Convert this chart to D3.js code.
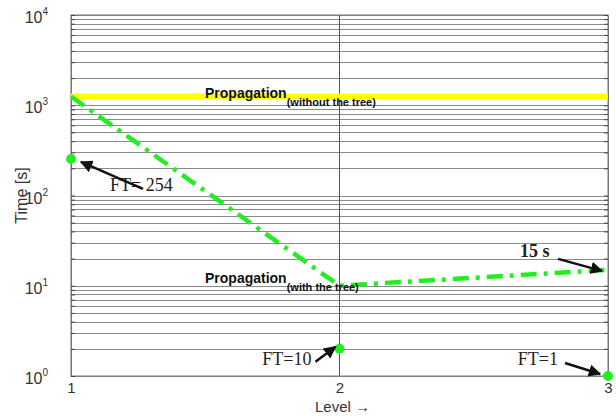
<!DOCTYPE html>
<html>
<head>
<meta charset="utf-8">
<script src="https://cdn.jsdelivr.net/npm/d3@7"></script>
<style>
  body { margin: 0; background: #fff; }
  text { font-family: "Liberation Sans", Arial, sans-serif; }
</style>
</head>
<body>
<div id="chart"></div>
<script>
var levels = [1, 2, 3];
var withTree = [1250, 10, 15];
var withoutTree = [1250, 1250, 1250];
var ftValues = [254, 2, 1];
var ftLabels = ["FT= 254", "FT=10", "FT=1"];
var yTickExp = [0, 1, 2, 3, 4];

function init() {
    var w = 616, h = 416;
    var margin = {left: 71, right: 8, top: 15, bottom: 40};

    var svg = d3.select("#chart").append("svg")
        .attr("width", w)
        .attr("height", h);

    var defs = svg.append("defs");
    defs.append("marker")
        .attr("id", "arr")
        .attr("viewBox", "0 0 10 10")
        .attr("refX", 9).attr("refY", 5)
        .attr("markerWidth", 5).attr("markerHeight", 5)
        .attr("orient", "auto")
        .append("path")
        .attr("d", "M0,0 L10,5 L0,10 z")
        .attr("fill", "#111");

    var x = d3.scaleLinear().domain([1, 3]).range([margin.left, w - margin.right]);
    var y = d3.scaleLog().domain([1, 1e4]).range([h - margin.bottom, margin.top]);

    // horizontal grid at every 1..9 x decade
    var gridVals = [];
    for (var e = 0; e < 4; e++) {
        for (var m = 1; m < 10; m++) gridVals.push(m * Math.pow(10, e));
    }
    gridVals.push(1e4);

    svg.append("g").selectAll("line")
        .data(gridVals)
        .enter().append("line")
        .attr("x1", x(1)).attr("x2", x(3))
        .attr("y1", function(d) { return Math.round(y(d)) + 0.5; })
        .attr("y2", function(d) { return Math.round(y(d)) + 0.5; })
        .attr("stroke", "#8a8a8a")
        .attr("stroke-width", 1.2);

    // vertical grid at level 2
    svg.append("line")
        .attr("x1", x(2)).attr("x2", x(2))
        .attr("y1", y(1e4)).attr("y2", y(1))
        .attr("stroke", "#555").attr("stroke-width", 1);

    // box
    svg.append("rect")
        .attr("x", x(1)).attr("y", y(1e4))
        .attr("width", x(3) - x(1)).attr("height", y(1) - y(1e4))
        .attr("fill", "none").attr("stroke", "#777").attr("stroke-width", 1);

    // y axis (ticks inside)
    var yAxisL = d3.axisRight(y).tickValues(gridVals).tickSize(4).tickFormat("");
    svg.append("g").attr("transform", "translate(" + x(1) + ",0)").call(yAxisL)
        .call(function(g) { g.select(".domain").attr("stroke", "#777"); g.selectAll("line").attr("stroke", "#444"); });
    var yAxisR = d3.axisLeft(y).tickValues(gridVals).tickSize(4).tickFormat("");
    svg.append("g").attr("transform", "translate(" + x(3) + ",0)").call(yAxisR)
        .call(function(g) { g.select(".domain").attr("stroke", "#777"); g.selectAll("line").attr("stroke", "#444"); });

    // y tick labels 10^n
    var yl = svg.append("g").selectAll("text")
        .data(yTickExp)
        .enter().append("text")
        .attr("x", x(1) - 23)
        .attr("y", function(d) { return y(Math.pow(10, d)) + 8; })
        .attr("text-anchor", "end")
        .attr("font-size", 16)
        .attr("fill", "#333");
    yl.append("tspan").text("10");
    yl.append("tspan").attr("dy", -8).attr("font-size", 10).text(function(d) { return d; });

    // x axis labels
    var xAxis = d3.axisBottom(x).tickValues(levels).tickSize(0).tickPadding(6).tickFormat(d3.format("d"));
    svg.append("g").attr("transform", "translate(0," + y(1) + ")").call(xAxis)
        .call(function(g) {
            g.select(".domain").remove();
            g.selectAll("text").attr("font-size", 15).attr("fill", "#333")
                .style("font-family", "Liberation Sans, Arial, sans-serif");
        });

    svg.append("text")
        .attr("x", x(2) + 3).attr("y", 412)
        .attr("text-anchor", "middle").attr("font-size", 15).attr("fill", "#333")
        .text("Level \u2192");

    svg.append("text")
        .attr("transform", "translate(27," + ((y(1) + y(1e4)) / 2) + ") rotate(-90)")
        .attr("text-anchor", "middle").attr("font-size", 16).attr("fill", "#333")
        .text("Time [s]");

    // yellow line: without the tree
    var line = d3.line()
        .x(function(d, i) { return x(levels[i]); })
        .y(function(d) { return y(d); });

    svg.append("path")
        .datum(withoutTree)
        .attr("d", line)
        .attr("fill", "none")
        .attr("stroke", "#ffff00")
        .attr("stroke-width", 6);

    // green dash-dot line: with the tree
    svg.append("path")
        .datum(withTree)
        .attr("d", line)
        .attr("fill", "none")
        .attr("stroke", "#22ee22")
        .attr("stroke-width", 4.5)
        .attr("stroke-dasharray", "16,7,4,7");

    // FT points
    svg.append("g").selectAll("circle")
        .data(ftValues)
        .enter().append("circle")
        .attr("cx", function(d, i) { return x(levels[i]); })
        .attr("cy", function(d) { return y(d); })
        .attr("r", 5)
        .attr("fill", "#22ee22");

    // labels
    function propLabel(px, py, sub) {
        var t = svg.append("text")
            .attr("x", px).attr("y", py)
            .attr("font-weight", "bold").attr("font-size", 14).attr("fill", "#111");
        t.append("tspan").text("Propagation");
        t.append("tspan").attr("dy", 8).attr("font-size", 11).text(sub);
    }
    propLabel(205, y(withoutTree[1]) + 1, "(without the tree)");
    propLabel(205, y(withTree[1]) - 3, "(with the tree)");

    var serif = "Liberation Serif, Times New Roman, serif";

    // FT annotations with arrows (offsets relative to data points)
    var ftOff = [
        {tx: 39, ty: 32, x1: 72, y1: 30, x2: 10, y2: 3, anchor: "start"},
        {tx: -28, ty: 16, x1: -24, y1: 13, x2: -4, y2: -2, anchor: "end"},
        {tx: -50, ty: -11, x1: -43, y1: -13, x2: -8, y2: -2, anchor: "end"}
    ];
    ftValues.forEach(function(v, i) {
        var px = x(levels[i]), py = y(v), o = ftOff[i];
        svg.append("text")
            .attr("x", px + o.tx).attr("y", py + o.ty)
            .attr("text-anchor", o.anchor)
            .attr("font-size", 18).attr("fill", "#222")
            .style("font-family", serif)
            .text(ftLabels[i]);
        svg.append("line")
            .attr("x1", px + o.x1).attr("y1", py + o.y1)
            .attr("x2", px + o.x2).attr("y2", py + o.y2)
            .attr("stroke", "#111").attr("stroke-width", 2.5)
            .attr("marker-end", "url(#arr)");
    });

    // 15 s annotation
    var ex = x(levels[2]), ey = y(withTree[2]);
    svg.append("text")
        .attr("x", ex - 88).attr("y", ey - 13)
        .attr("font-size", 18).attr("font-weight", "bold").attr("fill", "#222")
        .style("font-family", serif)
        .text("15 s");
    svg.append("line")
        .attr("x1", ex - 50).attr("y1", ey - 11)
        .attr("x2", ex - 6).attr("y2", ey + 1)
        .attr("stroke", "#111").attr("stroke-width", 2.5)
        .attr("marker-end", "url(#arr)");
}

window.onload = init;
</script>
</body>
</html>
